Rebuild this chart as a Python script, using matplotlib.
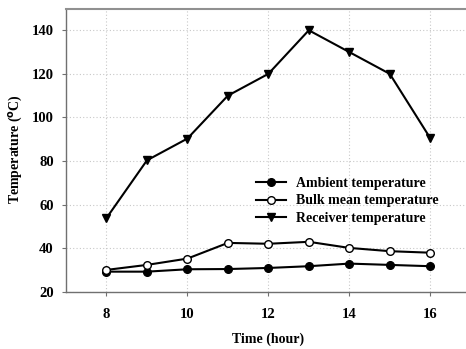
import matplotlib
matplotlib.use("Agg")
import matplotlib.pyplot as plt

hours = [8, 9, 10, 11, 12, 13, 14, 15, 16]
ambient = [29.2, 29.2, 30.3, 30.4, 30.9, 31.7, 32.9, 32.3, 31.7]
bulk_mean = [30.0, 32.3, 35.2, 42.4, 42.0, 42.9, 40.1, 38.6, 37.9]
receiver = [53.8, 80.3, 90.3, 110.0, 120.0, 140.0, 130.0, 120.0, 90.5]
x_ticks = [8, 10, 12, 14, 16]
y_ticks = [20, 40, 60, 80, 100, 120, 140]

plt.rcParams['font.family'] = ['Liberation Serif', 'DejaVu Serif']
plt.rcParams['font.weight'] = 'bold'

W, H = 466, 349
fig = plt.figure(figsize=(W / 100, H / 100), dpi=100)
ax = fig.add_axes([66 / W, 1 - 291.7 / H, 404.7 / W, (291.7 - 8.5) / H])

kw = dict(color='black', lw=1.5, markersize=5.5, markeredgewidth=1.0)
ax.plot(hours, ambient, marker='o', markerfacecolor='black', markeredgecolor='black',
        label='Ambient temperature', **kw)
ax.plot(hours, bulk_mean, marker='o', markerfacecolor='white', markeredgecolor='black',
        label='Bulk mean temperature', **kw)
ax.plot(hours, receiver, marker='v', markerfacecolor='black', markeredgecolor='black',
        label='Receiver temperature', **kw)

ax.set_xlim(7, 17)
ax.set_ylim(20, 150)
ax.set_xticks(x_ticks)
ax.set_yticks(y_ticks)
ax.grid(True, color='#c8c8c8', linestyle=(0, (1, 2)), linewidth=0.8)
ax.set_axisbelow(True)
for s in ax.spines.values():
    s.set_color('#707070')
    s.set_linewidth(1.0)
ax.spines['top'].set_linewidth(1.5)
ax.spines['top'].set_color('#909090')
ax.tick_params(direction='out', length=3, width=0.8, color='#707070', labelsize=10.5)
ax.tick_params(axis='x', pad=8.5)
ax.tick_params(axis='y', pad=5.8)
for lab in ax.get_xticklabels() + ax.get_yticklabels():
    lab.set_fontweight('bold')

fig.text(268 / W, 1 - 339 / H, 'Time (hour)', fontsize=10, fontweight='bold',
         ha='center', va='center')
fig.text(16 / W, 1 - 149 / H, 'Temperature ($^{\\rm o}$C)', fontsize=10, fontweight='bold',
         ha='center', va='center', rotation=90)

leg = ax.legend(loc='upper left', bbox_to_anchor=((250 - 66) / 404.7, (291.7 - 171) / 283.2),
                frameon=False, fontsize=10, handlelength=2.2, handletextpad=0.7,
                labelspacing=0.35, borderaxespad=0)
for t in leg.get_texts():
    t.set_fontweight('bold')

fig.savefig('out.png', dpi=100)
